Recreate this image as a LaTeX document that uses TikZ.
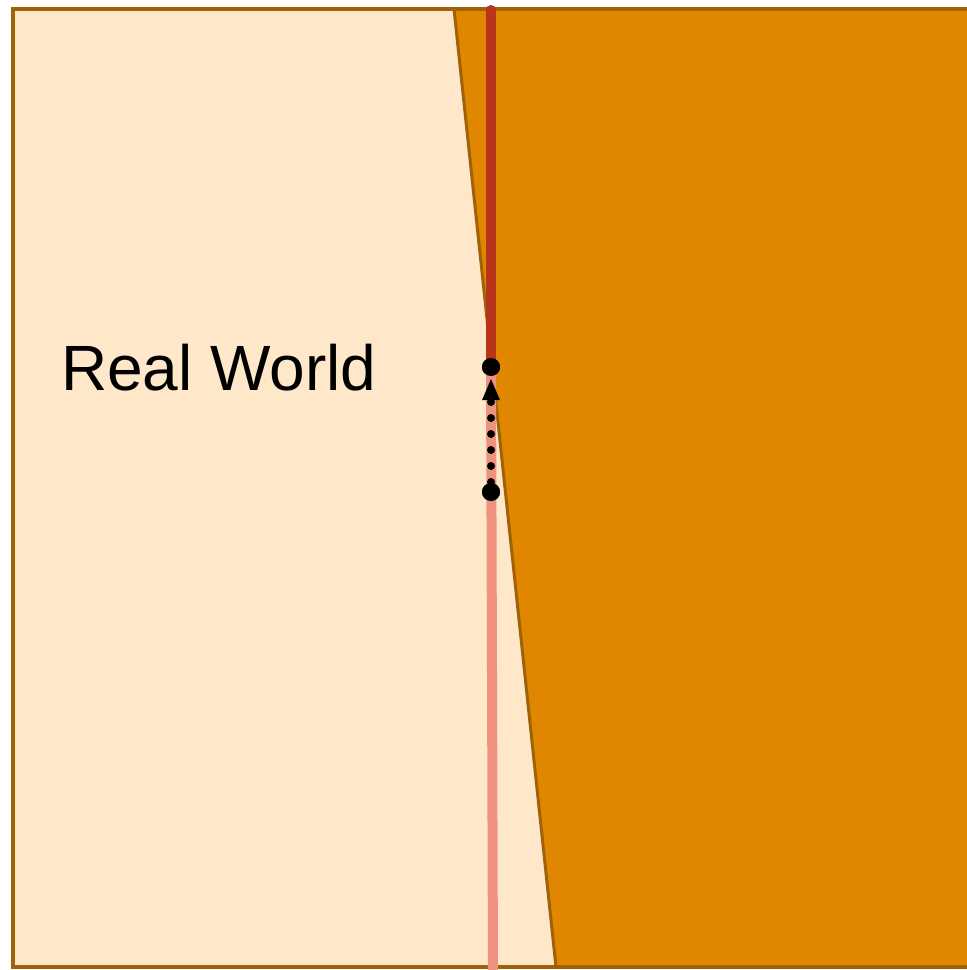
\documentclass[tikz,border=0pt]{standalone}
\usepackage{fontspec}
\setmainfont{Liberation Sans}
\usetikzlibrary{arrows.meta}
\definecolor{paper}{RGB}{255,232,202}
\definecolor{orng}{RGB}{224,134,0}
\definecolor{edge}{RGB}{160,98,8}
\definecolor{redl}{RGB}{184,52,26}
\definecolor{pinkl}{RGB}{240,146,128}
\tikzset{
  dotpt/.style={circle,fill=black,inner sep=0pt,minimum size=18pt},
  border/.style={draw=edge,line width=3.5pt},
}
\begin{document}
\begin{tikzpicture}[x=1pt,y=-1pt]
\useasboundingbox (0,0) rectangle (967,970);
\fill[paper] (13,9) rectangle (972,967);
\fill[orng] (454,9) -- (972,9) -- (972,967) -- (556,967) -- cycle;
\draw[edge,line width=3pt] (454,9) -- (556,967);
\draw[border] (972,9) -- (13,9) -- (13,967) -- (972,967);
\coordinate (top) at (491,10);
\coordinate (bot) at (493,975);
\node[dotpt] (a) at (491,367) {};
\node[dotpt] (b) at (491,492) {};
\draw[redl,line width=10pt,line cap=round] (top) -- (a.center);
\draw[pinkl,line width=10pt] (a.center) -- (bot);
\node[dotpt] at (a) {};
\node[dotpt] at (b) {};
\draw[black,line width=8pt,line cap=round,dash pattern=on 0pt off 16pt,
  shorten <=10pt,shorten >=11pt,-{Triangle[length=22pt,width=16pt]}]
  (b.center) -- (a.center);
\node[font=\fontsize{64pt}{70pt}\selectfont,anchor=base west,inner sep=0pt] (t) at (61,390) {Real World};
\end{tikzpicture}
\end{document}
